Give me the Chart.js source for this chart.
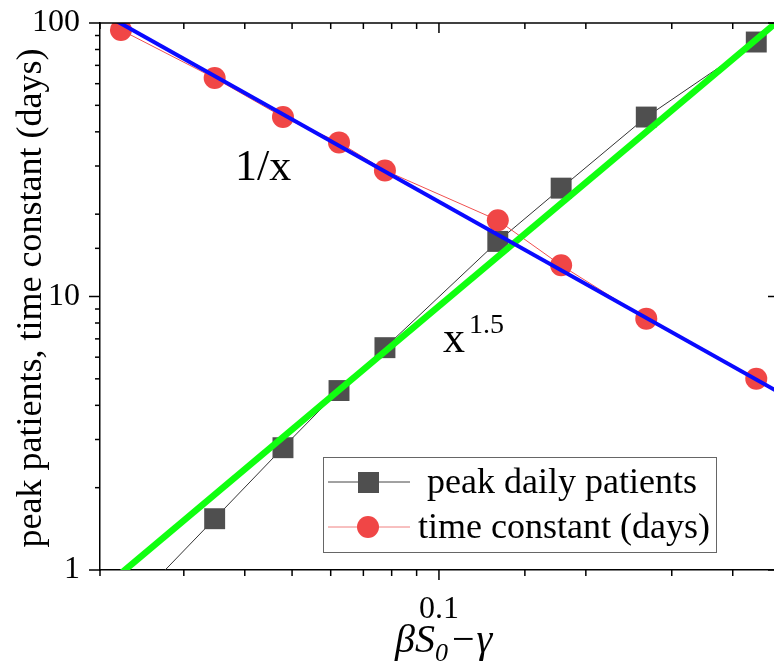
<!DOCTYPE html>
<html>
<head>
<meta charset="utf-8">
<script src="https://cdn.jsdelivr.net/npm/chart.js@4.4.0/dist/chart.umd.min.js"></script>
<style>
  html, body { margin: 0; padding: 0; background: #fff; overflow: hidden; }
  #wrap { position: relative; width: 774px; height: 669px; }
</style>
</head>
<body>
<div id="wrap"><canvas id="chart"></canvas></div>
<script>
// values
var growthRate = [0.0223, 0.0347, 0.0479, 0.0624, 0.0775, 0.132, 0.178, 0.266, 0.447];
var timeConstant = [94.3, 62.9, 45.3, 36.6, 28.9, 19.0, 13.0, 8.3, 5.0];
var peakPatients = [0.68, 1.54, 2.80, 4.53, 6.50, 15.9, 24.9, 45.3, 85.2];

// guide lines 1/x and x^1.5 (end points only)
var fitRange = [0.02, 0.5];
var fitInverse = [111, 4.44];
var fitPower = [0.826, 103];

var xTickLabels = [0.1];
var yTickLabels = [1, 10, 100];
var legendLabels = ["peak daily patients", "time constant (days)"];

var serif = "'Liberation Serif', 'Times New Roman', serif";

function pairs(xs, ys) {
  return xs.map((x, i) => ({ x: x, y: ys[i] }));
}
function isDecade(v) {
  var l = Math.log10(v);
  return Math.abs(l - Math.round(l)) < 1e-6;
}
function hasLabel(list, v) {
  return list.some((t) => Math.abs(t - v) / t < 1e-6);
}
// keep the plot box where the reference has it
function fixBox(size, key) {
  return (s) => {
    s[key] = size;
    s.paddingTop = 0;
    s.paddingBottom = 0;
    s.paddingLeft = 0;
    s.paddingRight = 0;
  };
}

// frame, tick marks, legend and free text
var decor = {
  id: "decor",
  afterDraw(chart) {
    var ctx = chart.ctx;
    var a = chart.chartArea;
    var xs = chart.scales.x;
    var ys = chart.scales.y;
    // the right axis sits just past the cropped edge
    var rightAxis = a.right + 5;

    function seg(x1, y1, x2, y2) {
      ctx.beginPath();
      ctx.moveTo(x1, y1);
      ctx.lineTo(x2, y2);
      ctx.stroke();
    }

    ctx.save();
    ctx.strokeStyle = "#000";
    ctx.lineWidth = 1.5;
    seg(a.left, a.top, a.right, a.top);

    xs.ticks.forEach((t) => {
      var px = xs.getPixelForValue(t.value);
      if (px > a.right - 1) return;
      var len = isDecade(t.value) ? 10 : 6;
      seg(px, a.bottom, px, a.bottom + len);
      seg(px, a.top, px, a.top + len);
    });
    ys.ticks.forEach((t) => {
      var py = ys.getPixelForValue(t.value);
      var len = isDecade(t.value) ? 11 : 5;
      seg(a.left - len, py, a.left, py);
      seg(rightAxis - len, py, rightAxis, py);
    });

    // legend
    ctx.fillStyle = "#fff";
    ctx.fillRect(323, 457, 393, 95);
    ctx.strokeStyle = "#666";
    ctx.lineWidth = 1;
    ctx.strokeRect(323.5, 457.5, 393, 95);

    ctx.strokeStyle = "#444";
    seg(328, 482, 410, 482);
    ctx.fillStyle = "#4f4f4f";
    ctx.fillRect(358, 472, 21, 21);

    ctx.strokeStyle = "#f08080";
    seg(328, 527, 410, 527);
    ctx.fillStyle = "#f04646";
    ctx.beginPath();
    ctx.arc(368, 527, 11, 0, Math.PI * 2);
    ctx.fill();

    ctx.fillStyle = "#000";
    ctx.font = "36px " + serif;
    ctx.textAlign = "center";
    ctx.textBaseline = "alphabetic";
    ctx.fillText(legendLabels[0], 562, 493);
    ctx.fillText(legendLabels[1], 564, 538);

    // guide line labels
    ctx.textAlign = "left";
    ctx.font = "44px " + serif;
    ctx.fillText("1/x", 235, 180);
    ctx.fillText("x", 443, 352);
    ctx.font = "28px " + serif;
    ctx.fillText("1.5", 469, 333);

    // y title
    ctx.save();
    ctx.translate(41, 298);
    ctx.rotate(-Math.PI / 2);
    ctx.textAlign = "center";
    ctx.font = "36px " + serif;
    ctx.fillText("peak patients, time constant (days)", 0, 0);
    ctx.restore();

    // x title: beta S_0 - gamma
    ctx.textAlign = "left";
    ctx.font = "italic 40px " + serif;
    var x = 395;
    ctx.fillText("\u03B2S", x, 652);
    x += ctx.measureText("\u03B2S").width;
    ctx.font = "italic 26px " + serif;
    ctx.fillText("0", x, 661);
    x += ctx.measureText("0").width + 4;
    ctx.font = "40px " + serif;
    ctx.fillText("\u2212", x, 652);
    x += ctx.measureText("\u2212").width;
    ctx.font = "italic 40px " + serif;
    ctx.fillText("\u03B3", x + 2, 652);

    ctx.restore();
  },
};

var ctx = document.getElementById("chart").getContext("2d");
var chart = new Chart(ctx, {
  type: "scatter",
  data: {
    datasets: [
      {
        label: "1/x",
        data: pairs(fitRange, fitInverse),
        showLine: true,
        borderColor: "#0a0aff",
        borderWidth: 4,
        pointRadius: 0,
      },
      {
        label: "x^1.5",
        data: pairs(fitRange, fitPower),
        showLine: true,
        borderColor: "#10ff10",
        borderWidth: 6.5,
        pointRadius: 0,
      },
      {
        label: legendLabels[1],
        data: pairs(growthRate, timeConstant),
        showLine: true,
        borderColor: "#f05050",
        borderWidth: 1,
        pointStyle: "circle",
        pointRadius: 11,
        pointBackgroundColor: "#f04646",
        pointBorderWidth: 0,
      },
      {
        label: legendLabels[0],
        data: pairs(growthRate, peakPatients),
        showLine: true,
        borderColor: "#333",
        borderWidth: 1,
        pointStyle: "rect",
        pointRadius: 14.8,
        pointBackgroundColor: "#4f4f4f",
        pointBorderWidth: 0,
      },
    ],
  },
  options: {
    responsive: true,
    maintainAspectRatio: false,
    animation: false,
    devicePixelRatio: 1,
    layout: { autoPadding: false, padding: { top: 23, right: 0, left: 0, bottom: 0 } },
    plugins: {
      legend: { display: false },
      tooltip: { enabled: false },
    },
    scales: {
      x: {
        type: "logarithmic",
        min: 0.0202,
        max: 0.486,
        grid: { display: false, drawTicks: false },
        border: { display: true, color: "#000", width: 1.5 },
        ticks: {
          autoSkip: false,
          maxRotation: 0,
          padding: 20,
          color: "#000",
          font: { family: serif, size: 32 },
          callback: (v) => (hasLabel(xTickLabels, v) ? String(v) : ""),
        },
        afterFit: fixBox(99, "height"),
      },
      y: {
        type: "logarithmic",
        min: 1,
        max: 100,
        grid: { display: false, drawTicks: false },
        border: { display: true, color: "#000", width: 1.5 },
        ticks: {
          autoSkip: false,
          padding: 20,
          color: "#000",
          font: { family: serif, size: 32 },
          callback: (v) => (hasLabel(yTickLabels, v) ? String(v) : ""),
        },
        afterFit: fixBox(100, "width"),
      },
    },
  },
  plugins: [decor],
});
</script>
</body>
</html>
